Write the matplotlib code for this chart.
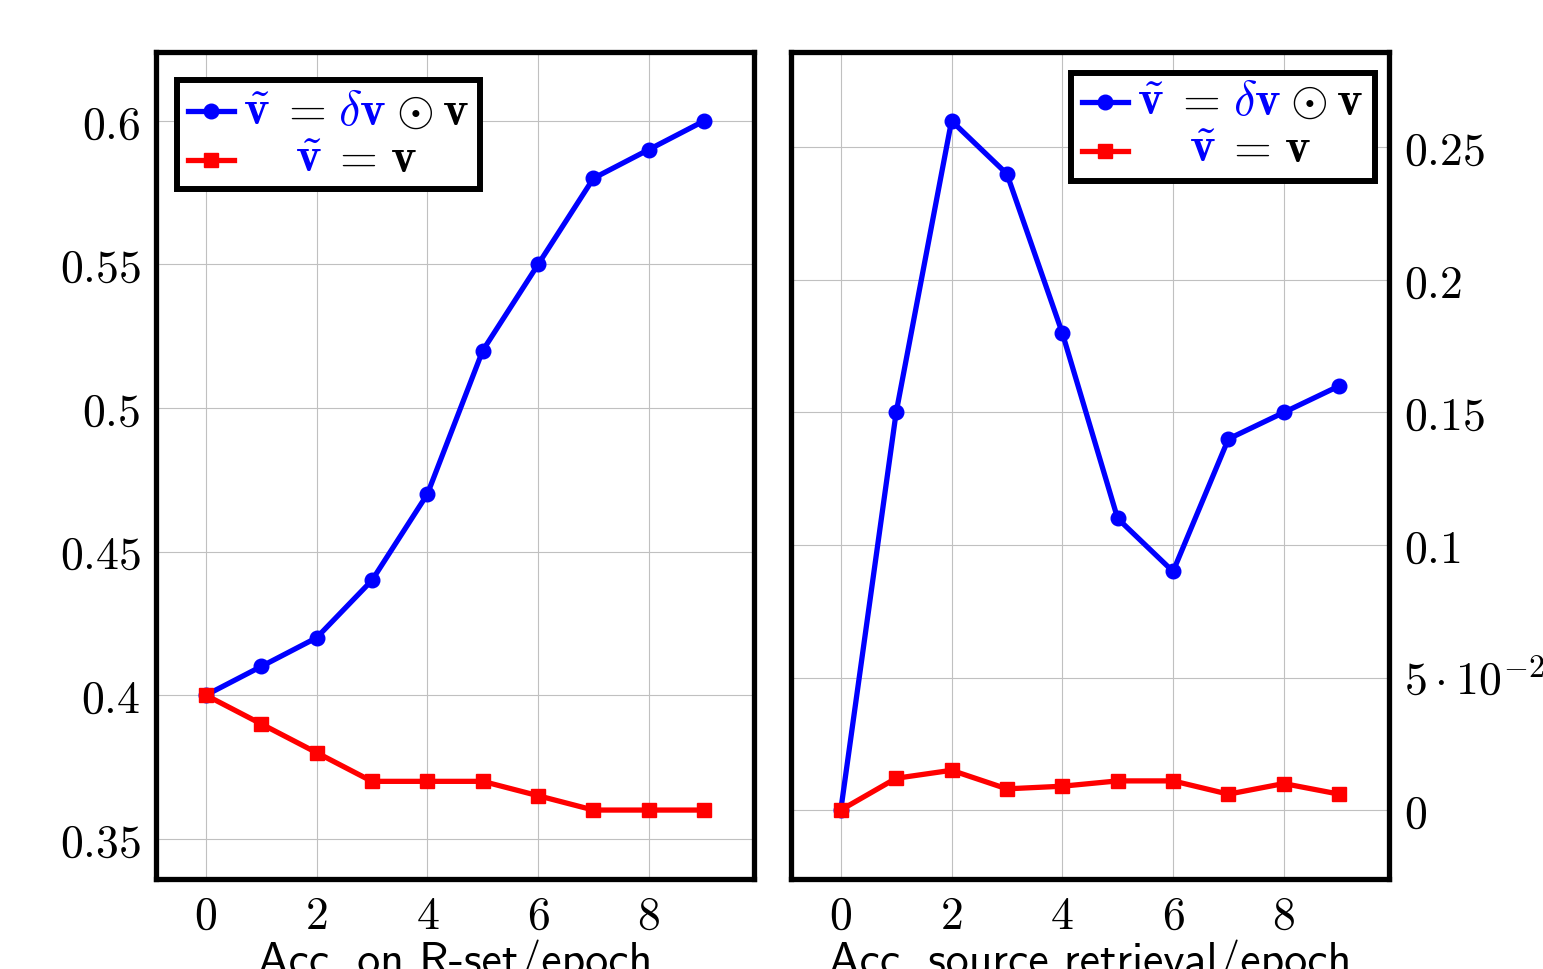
import numpy as np
import matplotlib
matplotlib.use('Agg')
import matplotlib.pyplot as plt
import matplotlib.transforms as mtransforms
from matplotlib.ticker import FixedLocator, FixedFormatter
from matplotlib.patches import Rectangle
from matplotlib.lines import Line2D

plt.rcParams['mathtext.fontset'] = 'cm'

# data
epochs = list(range(10))
rset_ours = [0.40, 0.41, 0.42, 0.44, 0.47, 0.52, 0.55, 0.58, 0.59, 0.60]
rset_base = [0.40, 0.39, 0.38, 0.37, 0.37, 0.37, 0.365, 0.36, 0.36, 0.36]
src_ours = [0.0, 0.15, 0.26, 0.24, 0.18, 0.11, 0.09, 0.14, 0.15, 0.16]
src_base = [0.0, 0.012, 0.015, 0.008, 0.009, 0.011, 0.011, 0.006, 0.010, 0.006]

rset_ticks = [0.35, 0.4, 0.45, 0.5, 0.55, 0.6]
rset_ticklabels = ['$0.35$', '$0.4$', '$0.45$', '$0.5$', '$0.55$', '$0.6$']
src_ticks = [0.0, 0.05, 0.1, 0.15, 0.2, 0.25]
src_ticklabels = ['$0$', r'$5\cdot10^{-2}$', '$0.1$', '$0.15$', '$0.2$', '$0.25$']
x_ticks = [0, 2, 4, 6, 8]
x_labels = ['Acc. on R-set/epoch', 'Acc. source retrieval/epoch']

BLUE = '#0000ff'
RED = '#ff0000'
FS = 33
FS_LEG = 35
LW = 3.8
MS = 10.5

fig = plt.figure(figsize=(15.43, 9.69), dpi=100)
ax1 = fig.add_axes([0.1011, 0.0929, 0.3876, 0.8535])
ax2 = fig.add_axes([0.5126, 0.0929, 0.3876, 0.8535])


def style(ax, ticks, labels, ylim, right=False):
    ax.set_xlim(-0.9, 9.9)
    ax.set_ylim(*ylim)
    ax.xaxis.set_major_locator(FixedLocator(x_ticks))
    ax.xaxis.set_major_formatter(FixedFormatter(['$%d$' % t for t in x_ticks]))
    ax.yaxis.set_major_locator(FixedLocator(ticks))
    ax.yaxis.set_major_formatter(FixedFormatter(labels))
    ax.grid(True, color='#c0c0c0', lw=0.8)
    ax.set_axisbelow(True)
    for s in ax.spines.values():
        s.set_linewidth(3.8)
        s.set_color('black')
    ax.tick_params(length=0, labelsize=FS, pad=11)
    if right:
        ax.yaxis.tick_right()


def draw_legend(ax, box, h_x, rows_y, text_x, base_y):
    r = fig.canvas.get_renderer()
    x0, y0, x1, y1 = box
    ax.add_patch(Rectangle((x0, y0), x1 - x0, y1 - y0, transform=ax.transAxes,
                           facecolor='white', edgecolor='black', lw=4.3,
                           zorder=10, clip_on=False))
    ax.add_line(Line2D(h_x, [rows_y[0]] * 2, transform=ax.transAxes, color=BLUE,
                       lw=LW, zorder=11))
    ax.add_line(Line2D([np.mean(h_x)], [rows_y[0]], transform=ax.transAxes,
                       color=BLUE, marker='o', ms=MS, zorder=11))
    ax.add_line(Line2D(h_x, [rows_y[1]] * 2, transform=ax.transAxes, color=RED,
                       lw=LW, zorder=11))
    ax.add_line(Line2D([np.mean(h_x)], [rows_y[1]], transform=ax.transAxes,
                       color=RED, marker='s', ms=MS, zorder=11))

    # pieces: (text, colour, gap after in pixels)
    row1 = [(r'$\tilde{\mathbf{v}}$', BLUE, 10), (r'$=$', 'black', 13),
            (r'$\delta\mathbf{v}$', BLUE, 9), (r'$\odot$', 'black', 9),
            (r'$\mathbf{v}$', 'black', 0)]
    row2 = [(r'$\tilde{\mathbf{v}}$', BLUE, 10), (r'$=$', 'black', 13),
            (r'$\mathbf{v}$', 'black', 0)]

    def widths(pieces):
        ws = []
        for s, c, g in pieces:
            t = fig.text(0, 0, s, fontsize=FS_LEG)
            ws.append(t.get_window_extent(renderer=r).width)
            t.remove()
        return ws

    w1 = widths(row1)
    w2 = widths(row2)
    tot1 = sum(w1) + sum(g for _, _, g in row1)
    tot2 = sum(w2) + sum(g for _, _, g in row2)
    for pieces, ws, yb, start in [(row1, w1, base_y[0], 0.0),
                                  (row2, w2, base_y[1], (tot1 - tot2) / 2)]:
        dx = start
        for (s, c, g), w in zip(pieces, ws):
            tr = mtransforms.offset_copy(ax.transAxes, fig=fig, x=dx, y=0,
                                         units='dots')
            ax.text(text_x, yb, s, color=c, fontsize=FS_LEG, transform=tr,
                    ha='left', va='baseline', zorder=12)
            dx += w + g


# left: R-set accuracy
ax1.plot(epochs, rset_ours, color=BLUE, lw=LW, marker='o', ms=MS, zorder=3)
ax1.plot(epochs, rset_base, color=RED, lw=LW, marker='s', ms=MS, zorder=4)
style(ax1, rset_ticks, rset_ticklabels, (0.336, 0.624))
ax1.set_xlabel(x_labels[0], fontsize=FS, fontfamily='cmss10', labelpad=0)

# right: source retrieval accuracy
ax2.plot(epochs, src_ours, color=BLUE, lw=LW, marker='o', ms=MS, zorder=3)
ax2.plot(epochs, src_base, color=RED, lw=LW, marker='s', ms=MS, zorder=4)
style(ax2, src_ticks, src_ticklabels, (-0.026, 0.286), right=True)
ax2.set_xlabel(x_labels[1], fontsize=FS, fontfamily='cmss10', labelpad=0)

draw_legend(ax1, (0.035, 0.834, 0.542, 0.9655), [0.0535, 0.130],
            [0.928, 0.869], 0.1455, [0.912, 0.855])
draw_legend(ax2, (0.469, 0.844, 0.977, 0.975), [0.486, 0.563],
            [0.939, 0.880], 0.579, [0.924, 0.867])

fig.savefig('out.png', dpi=100)
